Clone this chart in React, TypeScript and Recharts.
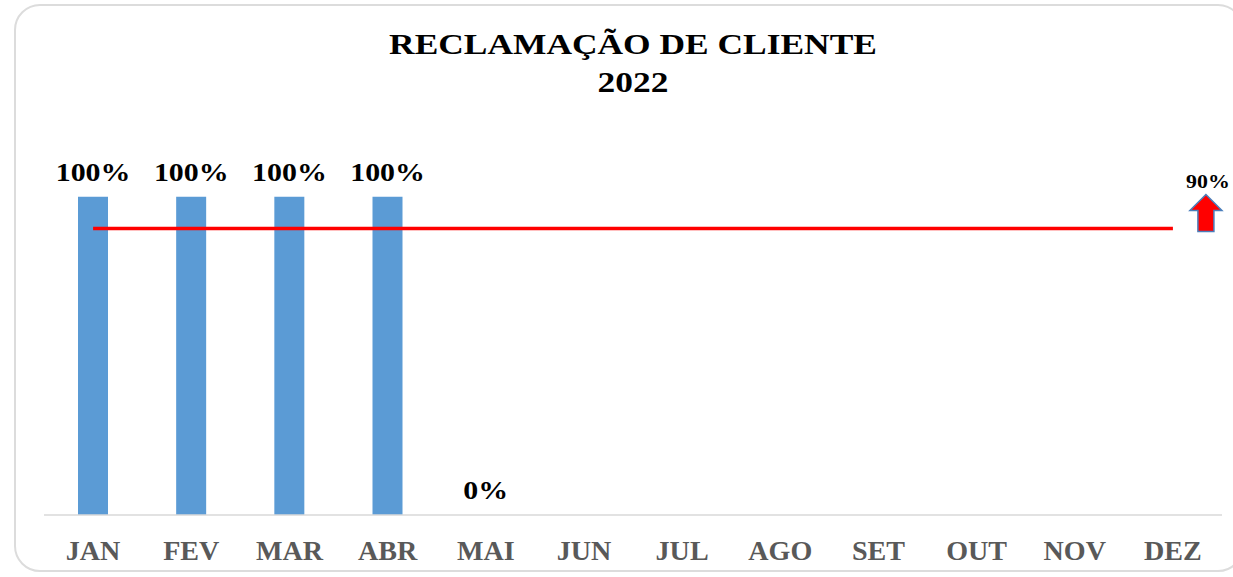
import React from 'react';
import { ComposedChart, Bar, Line, XAxis, YAxis, LabelList } from 'recharts';

const months = ['JAN', 'FEV', 'MAR', 'ABR', 'MAI', 'JUN', 'JUL', 'AGO', 'SET', 'OUT', 'NOV', 'DEZ'];
const reclamacao = [1, 1, 1, 1, 0, null, null, null, null, null, null, null];
const meta = [0.9, 0.9, 0.9, 0.9, 0.9, 0.9, 0.9, 0.9, 0.9, 0.9, 0.9, 0.9];

const data = months.map((m, i) => ({ mes: m, valor: reclamacao[i], meta: meta[i] }));

const FONT = '"Liberation Serif", "Times New Roman", serif';

function pct(v: number) {
  return `${Math.round(v * 100)}%`;
}

// rótulos dos valores (desenhados por uma linha invisível para que o 0% apareça)
function ValueLabel(props: any) {
  const { x, y, value } = props;
  if (value === null || value === undefined) return null;
  return (
    <text
      transform={`translate(${x},${y - 16}) scale(1.15,1)`}
      textAnchor="middle"
      fontFamily={FONT}
      fontWeight="bold"
      fontSize={26}
      fill="#000"
    >
      {pct(value)}
    </text>
  );
}

function Tick(props: any) {
  const { x, y, payload } = props;
  return (
    <text
      transform={`translate(${x},${y + 37}) scale(1.04,1)`}
      textAnchor="middle"
      fontFamily={FONT}
      fontWeight="bold"
      fontSize={27}
      fill="#595959"
    >
      {payload.value}
    </text>
  );
}

function GoalLabel(props: any) {
  const { x, y, index, value } = props;
  if (index !== meta.length - 1) return null;
  const cx = x + 33;
  const top = y - 34;
  const pts = [
    [cx, top],
    [cx + 16, top + 16],
    [cx + 8, top + 16],
    [cx + 8, top + 37],
    [cx - 8, top + 37],
    [cx - 8, top + 16],
    [cx - 16, top + 16],
  ].map((p) => p.join(',')).join(' ');
  return (
    <g>
      <text
        transform={`translate(${cx + 2},${top - 7}) scale(1.15,1)`}
        textAnchor="middle"
        fontFamily={FONT}
        fontWeight="bold"
        fontSize={19}
        fill="#000"
      >
        {pct(value)}
      </text>
      <polygon points={pts} fill="#ff0000" stroke="#4a7ebb" strokeWidth={1.5} />
    </g>
  );
}

export default function App() {
  return (
    <div style={{ position: 'absolute', left: 0, top: 0, width: 1233, height: 577, background: '#fff', fontFamily: FONT }}>
      <div
        style={{
          position: 'absolute',
          left: 14,
          top: 4,
          width: 1230,
          height: 568,
          border: '2px solid #dcdcdc',
          borderRadius: 26,
          boxSizing: 'border-box',
        }}
      />
      <div
        style={{
          position: 'absolute',
          left: 0,
          width: 1266,
          top: 25,
          textAlign: 'center',
          fontWeight: 'bold',
          fontSize: 30,
          lineHeight: '38px',
          color: '#000',
          transform: 'scaleX(1.18)',
          transformOrigin: '633px 0',
        }}
      >
        RECLAMAÇÃO DE CLIENTE
        <br />
        2022
      </div>
      <ComposedChart
        width={1233}
        height={577}
        data={data}
        margin={{ top: 133, right: 11, bottom: 22, left: 44 }}
        style={{ position: 'absolute', left: 0, top: 0 }}
      >
        <XAxis
          dataKey="mes"
          height={40}
          axisLine={{ stroke: '#d9d9d9', strokeWidth: 1.5 }}
          tickLine={false}
          interval={0}
          tick={<Tick />}
        />
        <YAxis hide domain={[0, 1.2]} />
        <Bar dataKey="valor" fill="#5b9bd5" barSize={30} isAnimationActive={false} />
        <Line
          dataKey="valor"
          stroke="none"
          dot={false}
          activeDot={false}
          legendType="none"
          isAnimationActive={false}
        >
          <LabelList dataKey="valor" content={<ValueLabel />} />
        </Line>
        <Line
          dataKey="meta"
          stroke="#ff0000"
          strokeWidth={3.5}
          dot={false}
          isAnimationActive={false}
        >
          <LabelList dataKey="meta" content={<GoalLabel />} />
        </Line>
      </ComposedChart>
    </div>
  );
}
